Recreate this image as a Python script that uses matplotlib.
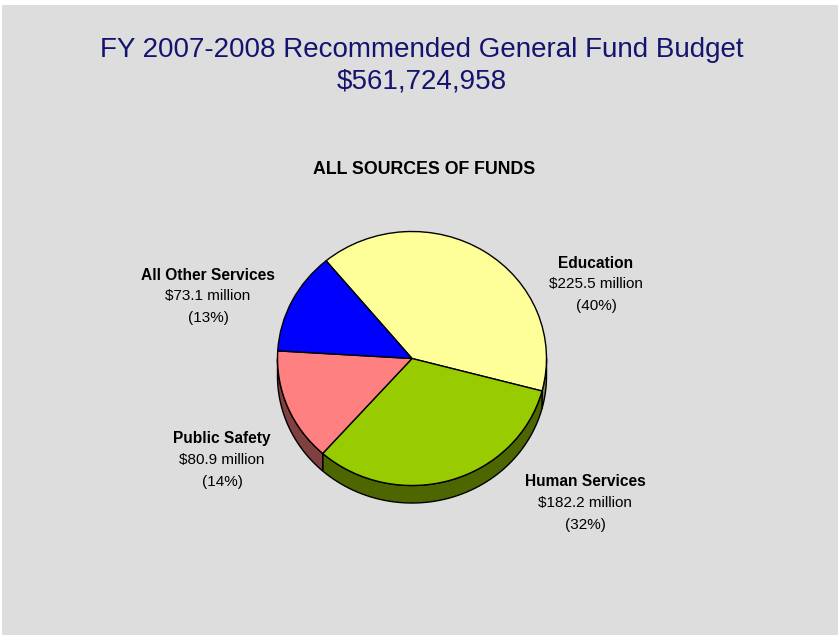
import numpy as np
import matplotlib
matplotlib.use('Agg')
import matplotlib.pyplot as plt
from matplotlib.patches import Rectangle, Polygon

# budget by service area, millions of dollars
areas = ['Education', 'Human Services', 'Public Safety', 'All Other Services']
amounts = [225.5, 182.2, 80.9, 73.1]
top_colors = ['#FFFF99', '#99CC00', '#FF8080', '#0000FF']
side_colors = ['#80804C', '#4D6600', '#804040', '#000080']

title_lines = ['FY 2007-2008 Recommended General Fund Budget', '$561,724,958']
subtitle = 'ALL SOURCES OF FUNDS'

W, H = 840, 635
plt.rcParams['font.family'] = ['Liberation Sans', 'DejaVu Sans']

fig = plt.figure(figsize=(W / 100, H / 100), dpi=100, facecolor='white')


def fx(px):
    return px / W


def fy(py):
    return 1 - py / H


# grey panel behind everything
fig.patches.append(Rectangle((fx(2), 0), fx(836), fy(5), transform=fig.transFigure,
                             facecolor='#DDDDDD', edgecolor='none', zorder=-5))

fig.text(fx(422), fy(50), title_lines[0], ha='center', va='center', fontsize=20, color='#14146E')
fig.text(fx(422), fy(82), title_lines[1], ha='center', va='center', fontsize=20, color='#14146E')
fig.text(fx(424), fy(170), subtitle, ha='center', va='center', fontsize=12.8,
         fontweight='bold', color='black')

# pie axes: unit radius -> 134.5 px wide, 127 px tall, centre at (412, 358.5)
rx, ry = 134.5, 127.0
cx, cy = 412.0, 358.5
xlim = (-1.1, 1.1)
ylim = (-1.3, 1.1)
left = cx + xlim[0] * rx
bottom = (H - cy) + ylim[0] * ry
ax = fig.add_axes([fx(left), bottom / H, (xlim[1] - xlim[0]) * rx / W,
                   (ylim[1] - ylim[0]) * ry / H])
ax.patch.set_visible(False)

wedges, _ = ax.pie(amounts, colors=top_colors, startangle=129.7, counterclock=False,
                   wedgeprops=dict(edgecolor='black', linewidth=1.0, zorder=3))
ax.set_aspect('auto')
ax.set_xlim(*xlim)
ax.set_ylim(*ylim)
ax.axis('off')

# side walls on the front half of the disc
depth = 0.138
for w, sc in zip(wedges, side_colors):
    for k in (-1, 0, 1):
        a = max(w.theta1, -180 + 360 * k)
        b = min(w.theta2, 0 + 360 * k)
        if b <= a:
            continue
        t = np.radians(np.linspace(a, b, 60))
        top = np.column_stack([np.cos(t), np.sin(t)])
        bot = np.column_stack([np.cos(t[::-1]), np.sin(t[::-1]) - depth])
        ax.add_patch(Polygon(np.vstack([top, bot]), closed=True, facecolor=sc,
                             edgecolor='black', linewidth=1.0, zorder=2))

# labels
total = sum(amounts)
label_pos = [(596, 263), (585, 482), (222, 439), (208, 275)]
for name, v, (lx, ly) in zip(areas, amounts, label_pos):
    fig.text(fx(lx), fy(ly), name, ha='center', va='center', fontsize=11.2,
             fontweight='bold', color='black')
    fig.text(fx(lx), fy(ly + 21), f'${v:.1f} million', ha='center', va='center',
             fontsize=11, color='black')
    fig.text(fx(lx), fy(ly + 43), f'({round(v / total * 100):.0f}%)', ha='center',
             va='center', fontsize=11, color='black')

fig.savefig('out.png', dpi=100, facecolor='white')
